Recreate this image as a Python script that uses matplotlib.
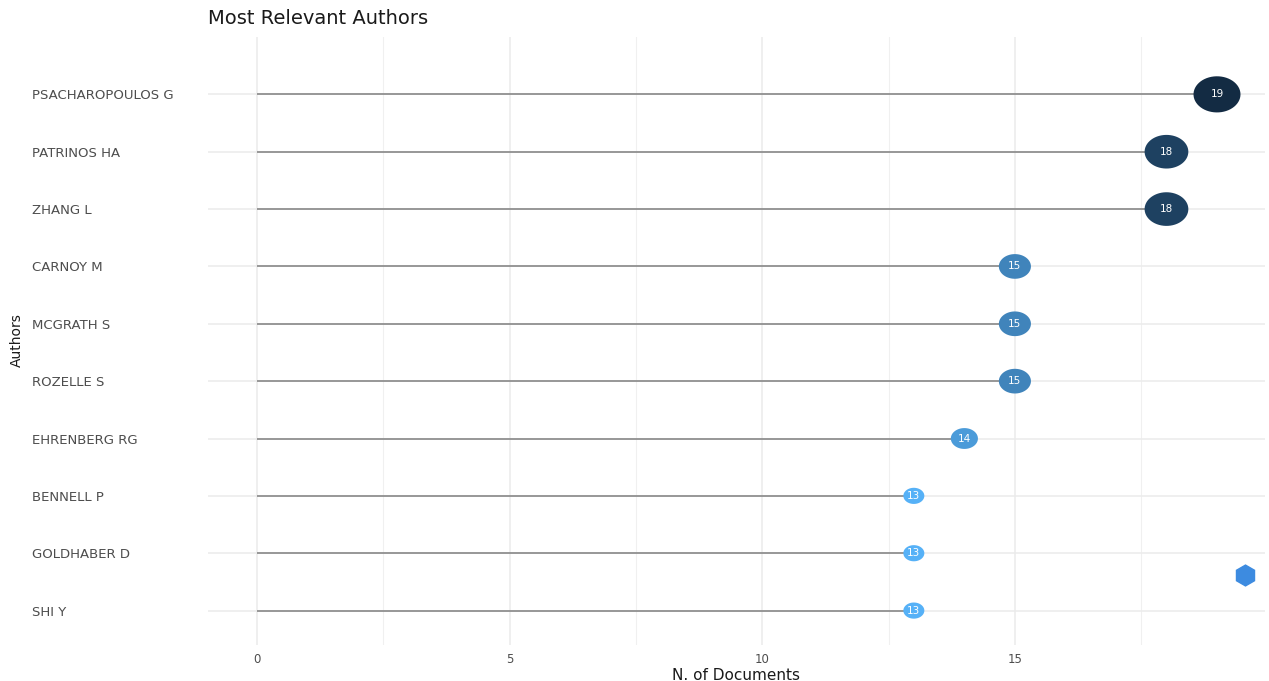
import numpy as np
import matplotlib
matplotlib.use("Agg")
import matplotlib.pyplot as plt
from matplotlib.path import Path
from matplotlib.colors import LinearSegmentedColormap

plt.rcParams['font.family'] = ['DejaVu Sans']

# data
authors = ["PSACHAROPOULOS G", "PATRINOS HA", "ZHANG L", "CARNOY M", "MCGRATH S",
           "ROZELLE S", "EHRENBERG RG", "BENNELL P", "GOLDHABER D", "SHI Y"]
docs = [19, 18, 18, 15, 15, 15, 14, 13, 13, 13]
x_ticks = [0, 5, 10, 15]


def point_size(v, vmin, vmax):
    # area grows linearly with the value, like ggplot's scale_size
    w_min, w_max = 21.0, 47.0  # marker width in pixels
    a = w_min**2 + (v - vmin) / (vmax - vmin) * (w_max**2 - w_min**2)
    return (np.sqrt(a) * 0.72) ** 2


def main():
    fig = plt.figure(figsize=(12.69, 6.81), dpi=100)
    ax = fig.add_axes([208/1269, 1 - 645/681, 1057/1269, 608/681])

    n = len(authors)
    ypos = np.arange(n)[::-1] + 1  # first author on top
    vals = np.array(docs, dtype=float)
    vmin, vmax = vals.min(), vals.max()

    cmap = LinearSegmentedColormap.from_list("gg", ["#56B1F7", "#132B43"])

    # grid
    for t in x_ticks:
        ax.axvline(t, color="#ebebeb", lw=1.1, zorder=0)
    for t in np.arange(2.5, 20, 5):
        ax.axvline(t, color="#f0f0f0", lw=0.8, zorder=0)
    for y in ypos:
        ax.axhline(y, color="#ebebeb", lw=1.1, zorder=0)

    # segments
    ax.hlines(ypos, 0, vals, color="#909090", lw=1.3, zorder=1)

    # elliptical points (the original is slightly stretched horizontally)
    th = np.linspace(0, 2*np.pi, 60)
    ell = Path(np.column_stack([1.3*np.cos(th), np.sin(th)]), closed=True)
    sizes = [point_size(v, vmin, vmax) for v in vals]
    colors = cmap((vals - vmin) / (vmax - vmin))
    ax.scatter(vals, ypos, s=sizes, c=colors, marker=ell, linewidths=0, zorder=2)
    for v, y in zip(vals, ypos):
        ax.text(v, y, "%d" % v, color="white", fontsize=7.5, ha="center",
                va="center", zorder=3)

    ax.set_xlim(-0.97, 19.95)
    ax.set_ylim(0.4, n + 1.0)
    ax.set_xticks(x_ticks)
    ax.set_xticklabels([str(t) for t in x_ticks], color="#4d4d4d", fontsize=8.5)
    ax.set_yticks(ypos)
    ax.set_yticklabels(authors, color="#4d4d4d", fontsize=9.5, ha="left")
    ax.tick_params(axis="y", length=0, pad=176*0.72)
    ax.tick_params(axis="x", length=0, pad=6)
    for s in ax.spines.values():
        s.set_visible(False)

    ax.set_xlabel("N. of Documents", fontsize=11, color="#1a1a1a", labelpad=1)
    fig.text(17/1269, 1 - 340/681, "Authors", rotation=90, fontsize=10,
             color="#1a1a1a", ha="center", va="center")
    fig.text(208/1269, 1 - 19/681, "Most Relevant Authors", fontsize=14,
             color="#1a1a1a", ha="left", va="center")

    # small logo in the corner
    ax.plot([0.981], [0.115], marker="h", markersize=15, color="#3d8be0",
            transform=ax.transAxes, clip_on=False, zorder=5)

    fig.savefig("out.png", dpi=100)


if __name__ == "__main__":
    main()
